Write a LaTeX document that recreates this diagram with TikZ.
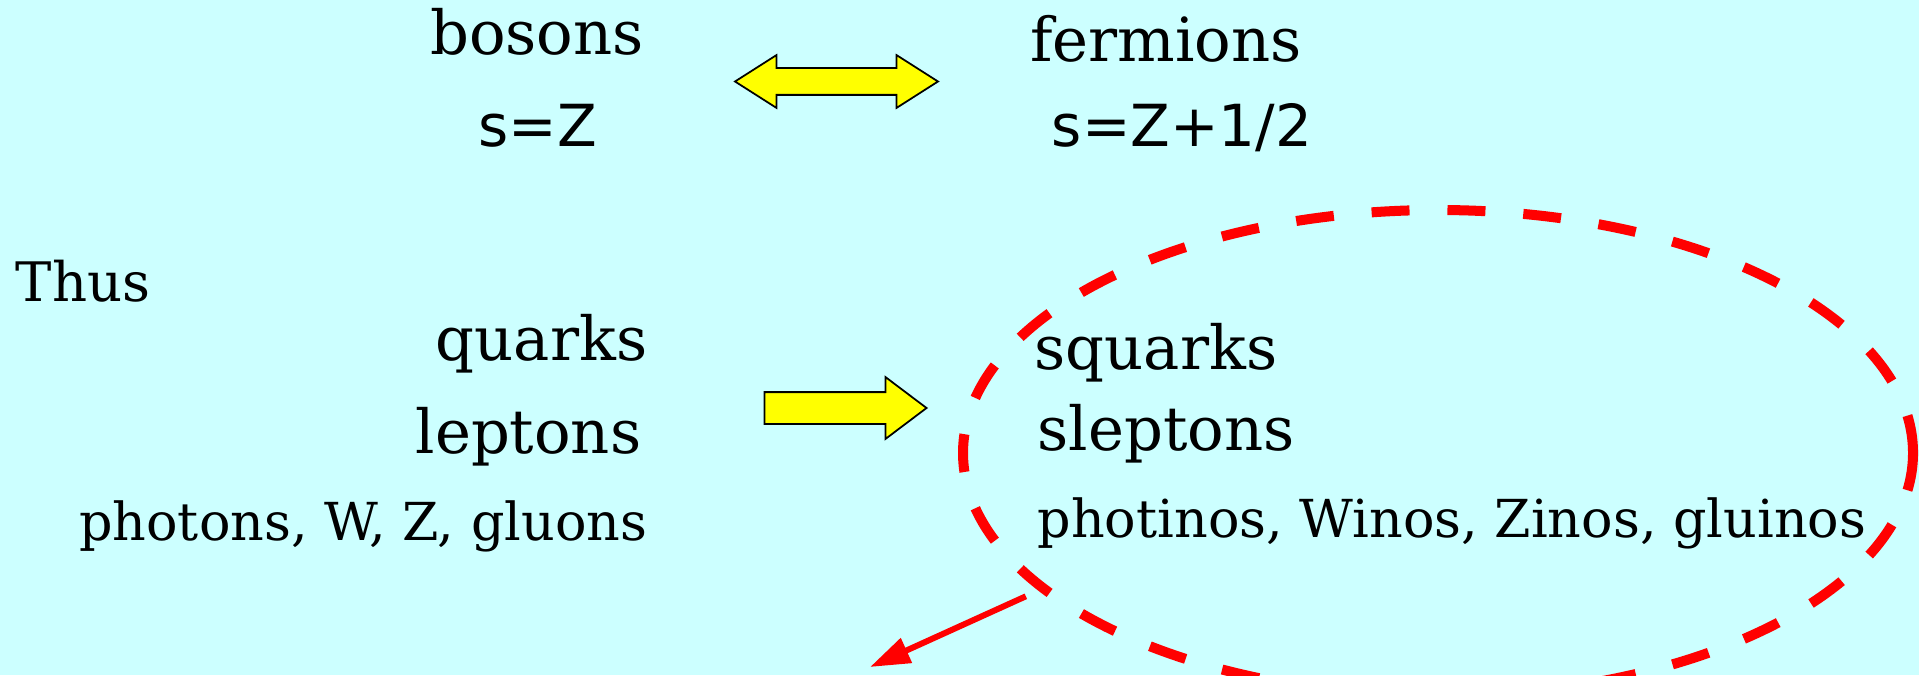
\documentclass[tikz,border=0pt]{standalone}
\usepackage{fontspec}
\setmainfont{DejaVu Serif}
\newfontfamily\spinfont{DejaVu Sans}
\usepackage{xcolor}
\usetikzlibrary{arrows.meta,positioning,shapes.geometric,shapes.arrows}
\definecolor{bgcyan}{HTML}{CCFFFF}
\definecolor{ayellow}{HTML}{FFFF00}
\definecolor{ored}{HTML}{FF0000}

\begin{document}
\begin{tikzpicture}[
    x=0.1mm, y=-0.1mm,
    word/.style={font=\fontsize{17.3}{20}\selectfont, inner sep=0pt},
    small/.style={font=\fontsize{14.9}{17}\selectfont, inner sep=0pt},
    spin/.style={font=\spinfont\fontsize{16.5}{19}\selectfont, inner sep=0pt},
    yarrow/.style={draw=black, line width=0.5pt, fill=ayellow, inner sep=0pt},
    ring/.style={draw=ored, ellipse, line width=2.85pt,
                 dash pattern=on 10.8pt off 10.8pt, inner sep=0pt},
    redarr/.style={-{Triangle[length=11.4pt, width=7.4pt]}, draw=ored, line width=1.7pt},
  ]
  \useasboundingbox (0,0) rectangle (1919,675);
  \fill[bgcyan] (0,0) rectangle (1919,675);

  % spin statistics
  \node[word, anchor=base] (bos) at (537,55) {bosons};
  \node[spin, anchor=base] (bspin) at (538,146) {s=Z};
  \node[word, anchor=base] (fer) at (1166,62) {fermions};
  \node[spin, anchor=base] (fspin) at (1182,147) {s=Z+1/2};
  \node[yarrow, double arrow, minimum height=20.3mm, minimum width=5.1mm,
        double arrow head extend=1.3mm, double arrow tip angle=65,
        inner ysep=1.25mm] (swap) at (836.5,81.5) {};

  % ordinary particles
  \node[small, anchor=base west, font=\fontsize{15.5}{18}\selectfont] (thus) at (15,301) {Thus};
  \node[word, anchor=base east] (quark) at (648,360) {quarks};
  \node[word, anchor=base east] (lepton) at (642,453) {leptons};
  \node[small, anchor=base east] (gauge) at (648,540) {photons, W, Z, gluons};

  % superpartners
  \node[word, anchor=base west] (squark) at (1034,369) {squarks};
  \node[word, anchor=base west] (slepton) at (1037,450) {sleptons};
  \node[small, anchor=base west] (gaugino) at (1037,537) {photinos, Winos, Zinos, gluinos};
  \node[yarrow, single arrow, minimum height=16.2mm, minimum width=6mm,
        single arrow head extend=1.5mm, single arrow tip angle=74,
        inner ysep=1.5mm] (map) at (835,408) {};

  \node[ring, minimum width=95mm, minimum height=48.6mm] (sel) at (1438,453) {};
  \coordinate (sink) at (870,667);
  \draw[redarr, shorten <=1.4mm] (sel.199) -- (sink);
\end{tikzpicture}
\end{document}
